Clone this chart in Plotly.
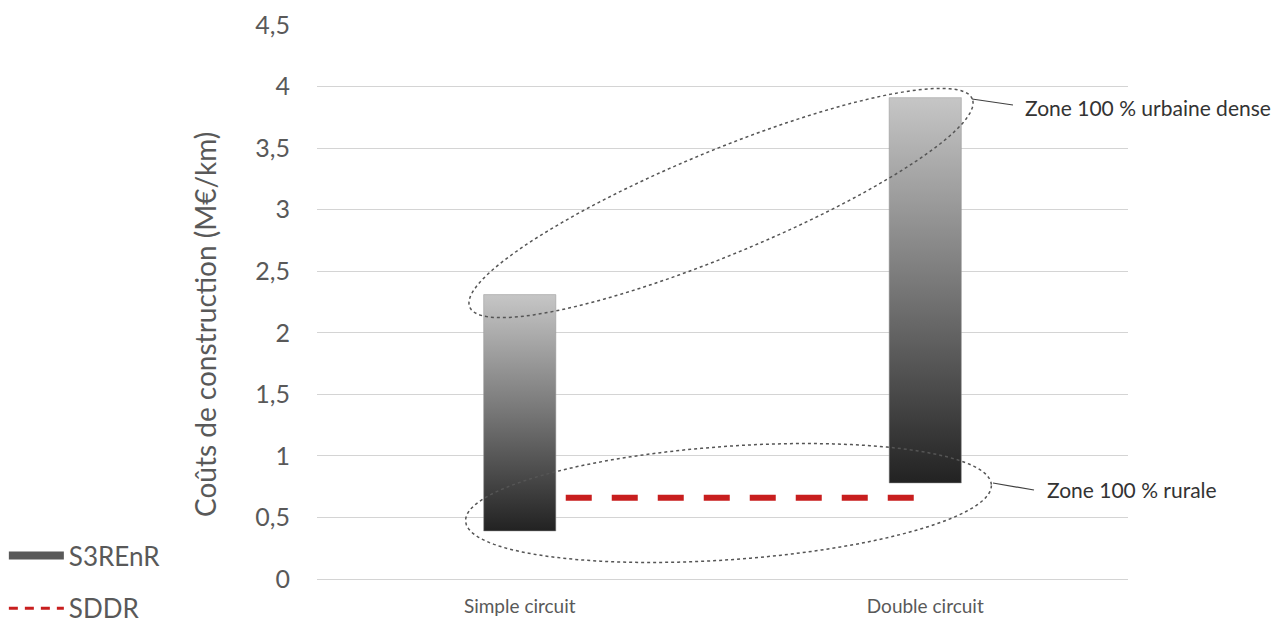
import numpy as np
import plotly.graph_objects as go

# ---------------- data ----------------
categories = ["Simple circuit", "Double circuit"]
s3renr_low = [0.39, 0.78]
s3renr_high = [2.31, 3.91]
sddr_values = [0.66, 0.66]
y_tick_values = [0, 0.5, 1, 1.5, 2, 2.5, 3, 3.5, 4, 4.5]
zone_labels = ["Zone 100 % urbaine dense", "Zone 100 % rurale"]
y_title = "Coûts de construction (M€/km)"

# ---------------- layout constants ----------------
W, H = 1284, 623
ML, MR, MT, MB = 317, 156, 25, 44
PW, PH = W - ML - MR, H - MT - MB
FONT = "Lato"
GREY = "#595959"
RED = "#c81e1e"
BAR_HALF = 0.089

def paper(px, py):
    return (px - ML) / PW, (H - MB - py) / PH

def ellipse_path(cx, cy, a, b, deg, n=160):
    th = np.radians(deg)
    t = np.linspace(0, 2 * np.pi, n)
    xs = cx + a * np.cos(t) * np.cos(th) - b * np.sin(t) * np.sin(th)
    ys = cy - (a * np.cos(t) * np.sin(th) + b * np.sin(t) * np.cos(th))
    pts = [paper(x, y) for x, y in zip(xs, ys)]
    return "M " + " L ".join(f"{x:.5f},{y:.5f}" for x, y in pts) + " Z"

fig = go.Figure()

# SDDR dashed line (drawn first so bars sit on top)
fig.add_trace(go.Scatter(
    x=list(range(len(categories))), y=sddr_values, mode="lines", name="SDDR",
    line=dict(color=RED, width=6, dash="26px,20px"),
    showlegend=False, hoverinfo="skip"))

# S3REnR gradient bars (floating ranges)
for i, (lo, hi) in enumerate(zip(s3renr_low, s3renr_high)):
    fig.add_trace(go.Scatter(
        x=[i - BAR_HALF, i + BAR_HALF, i + BAR_HALF, i - BAR_HALF, i - BAR_HALF],
        y=[lo, lo, hi, hi, lo],
        mode="lines", fill="toself", line=dict(width=1, color="rgba(150,150,150,0.5)"),
        fillgradient=dict(type="vertical", start=lo, stop=hi,
                          colorscale=[[0, "#222222"], [0.5, "#767676"], [1, "#c6c6c6"]]),
        showlegend=False, hoverinfo="skip"))

# legend entries
fig.add_trace(go.Scatter(x=[None], y=[None], mode="lines", name="S3REnR",
                         line=dict(color=GREY, width=8), legendgroup="a", legendrank=1))
fig.add_trace(go.Scatter(x=[None], y=[None], mode="lines", name="SDDR",
                         line=dict(color=RED, width=3, dash="9px,7px"),
                         legendgroup="b", legendrank=2))

shapes = [
    dict(type="path", xref="paper", yref="paper",
         path=ellipse_path(721, 203, 272, 52, 22.5),
         line=dict(color="#555555", width=1.5, dash="dot")),
    dict(type="path", xref="paper", yref="paper",
         path=ellipse_path(728.5, 503, 263.5, 56.7, 4),
         line=dict(color="#555555", width=1.5, dash="dot")),
]
for (x0, y0, x1, y1) in [(972, 99, 1013, 105), (993, 483, 1034, 490)]:
    a0, b0 = paper(x0, y0)
    a1, b1 = paper(x1, y1)
    shapes.append(dict(type="line", xref="paper", yref="paper", x0=a0, y0=b0, x1=a1, y1=b1,
                       line=dict(color="#404040", width=1.2)))

annotations = []
for label, (px, py) in zip(zone_labels, [(1023, 107), (1045, 490)]):
    ax, ay = paper(px, py)
    annotations.append(dict(text=label, xref="paper", yref="paper", x=ax, y=ay,
                            xanchor="left", yanchor="middle", showarrow=False,
                            font=dict(family=FONT, size=21, color="#333333")))
tx, ty = paper(205, 325)
annotations.append(dict(text=y_title, xref="paper", yref="paper", x=tx, y=ty,
                        xanchor="center", yanchor="middle", showarrow=False, textangle=-90,
                        font=dict(family=FONT, size=28, color=GREY)))

fig.update_layout(
    width=W, height=H, margin=dict(l=ML, r=MR, t=MT, b=MB, autoexpand=False),
    paper_bgcolor="white", plot_bgcolor="white",
    separators=", ",
    font=dict(family=FONT, color=GREY),
    shapes=shapes, annotations=annotations,
    legend=dict(xref="container", yref="container", x=0.003, y=1 - 532 / H,
                xanchor="left", yanchor="top", font=dict(family=FONT, size=26, color=GREY),
                tracegroupgap=16, itemwidth=55, bgcolor="rgba(0,0,0,0)"),
    xaxis=dict(range=[-0.5, 1.5], tickvals=list(range(len(categories))), ticktext=categories,
               showgrid=False, zeroline=False, showline=False, ticks="",
               tickfont=dict(family=FONT, size=19, color=GREY), ticklabelstandoff=14,
               fixedrange=True),
    yaxis=dict(range=[0, 4.5], tickvals=y_tick_values, showgrid=True, gridcolor="#d4d4d4",
               gridwidth=1, zeroline=True, zerolinecolor="#d4d4d4", zerolinewidth=1,
               showline=False, ticks="", tickfont=dict(family=FONT, size=25, color=GREY),
               ticklabelstandoff=26, automargin=False, fixedrange=True),
)

fig.write_html("out.html")
